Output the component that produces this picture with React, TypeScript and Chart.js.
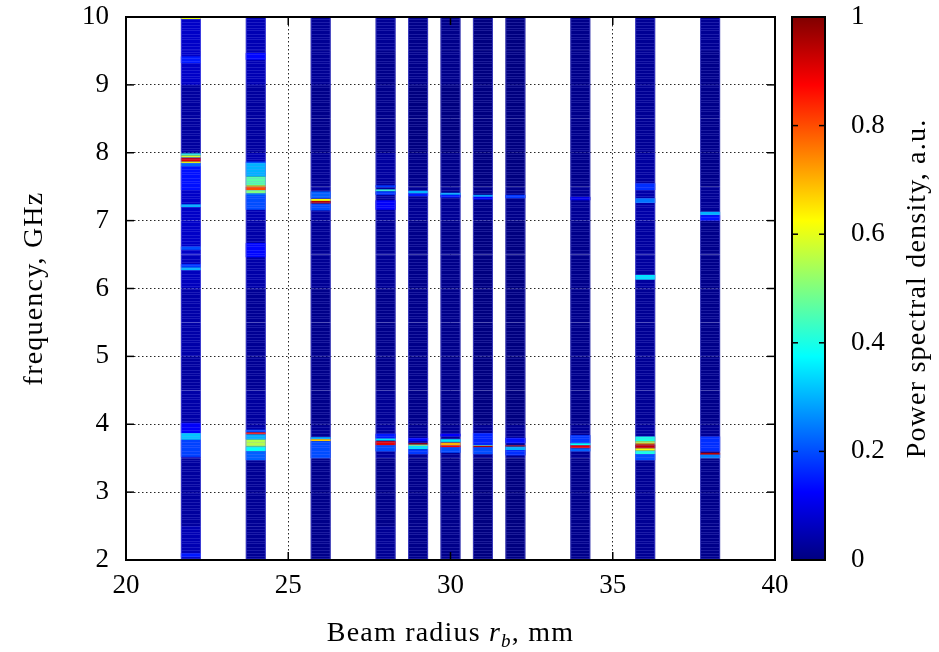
import React, { useEffect, useRef } from "react";
import { Chart, registerables } from "chart.js";
Chart.register(...registerables);

// ---- data ----
const radii = [22, 24, 26, 28, 29, 30, 31, 32, 34, 36, 38];
const bgEdges = [2, 2.5, 3, 3.5, 4, 4.5, 5, 5.5, 6, 6.5, 7, 7.5, 8, 8.5, 9, 9.5, 10];

const bg22 = [0.05, 0.03, 0.03, 0.06, 0.04, 0.03, 0.04, 0.04, 0.06, 0.07, 0.07, 0.06, 0.03, 0.03, 0.07, 0.07];
const bg24 = [0.02, 0.02, 0.02, 0.04, 0.03, 0.02, 0.02, 0.02, 0.04, 0.04, 0.05, 0.05, 0.03, 0.03, 0.05, 0.05];
const bg26 = [0.01, 0.01, 0.01, 0.02, 0.01, 0.01, 0.01, 0.01, 0.02, 0.02, 0.03, 0.02, 0.01, 0.01, 0.02, 0.02];
const bg28 = [0.02, 0.01, 0.01, 0.03, 0.02, 0.01, 0.01, 0.01, 0.02, 0.02, 0.03, 0.03, 0.01, 0.01, 0.01, 0.02];
const bg29 = [0.01, 0.01, 0.01, 0.02, 0.01, 0.01, 0.01, 0.01, 0.01, 0.01, 0.02, 0.01, 0.0, 0.0, 0.01, 0.01];
const bg30 = [0.01, 0.01, 0.01, 0.02, 0.01, 0.01, 0.01, 0.01, 0.01, 0.01, 0.02, 0.01, 0.0, 0.0, 0.01, 0.01];
const bg31 = [0.0, 0.0, 0.0, 0.02, 0.0, 0.0, 0.0, 0.0, 0.0, 0.0, 0.01, 0.0, 0.0, 0.0, 0.0, 0.0];
const bg32 = [0.0, 0.0, 0.0, 0.02, 0.0, 0.0, 0.0, 0.0, 0.0, 0.0, 0.01, 0.0, 0.0, 0.0, 0.0, 0.0];
const bg34 = [0.01, 0.01, 0.01, 0.02, 0.01, 0.01, 0.01, 0.01, 0.01, 0.01, 0.02, 0.01, 0.01, 0.01, 0.01, 0.01];
const bg36 = [0.02, 0.02, 0.02, 0.03, 0.02, 0.02, 0.02, 0.02, 0.03, 0.03, 0.04, 0.03, 0.02, 0.02, 0.02, 0.02];
const bg38 = [0.01, 0.01, 0.01, 0.02, 0.01, 0.01, 0.01, 0.01, 0.01, 0.01, 0.02, 0.01, 0.01, 0.01, 0.01, 0.02];

// spectral features: [low GHz, high GHz, level]
const pk22 = [
  [9.97, 10, 0.6], [9.32, 9.42, 0.15], [7.45, 7.8, 0.14], [7.8, 7.85, 0.22],
  [7.96, 7.99, 0.42], [7.93, 7.96, 0.58], [7.87, 7.92, 0.9], [7.85, 7.87, 0.62],
  [7.2, 7.24, 0.3], [6.57, 6.62, 0.2], [6.31, 6.36, 0.18], [6.27, 6.31, 0.3],
  [3.87, 4.02, 0.12], [3.77, 3.87, 0.32], [3.52, 3.77, 0.19], [2.04, 2.1, 0.15],
];
const pk24 = [
  [9.37, 9.47, 0.13], [7.85, 7.87, 0.2], [7.65, 7.85, 0.3], [7.52, 7.65, 0.46],
  [7.5, 7.52, 0.6], [7.45, 7.5, 0.8], [7.4, 7.45, 0.5], [7.38, 7.4, 0.28],
  [7.16, 7.38, 0.2], [6.46, 6.67, 0.13], [3.88, 3.92, 0.2], [3.85, 3.88, 0.85],
  [3.78, 3.85, 0.3], [3.77, 3.78, 0.45], [3.67, 3.77, 0.55], [3.6, 3.67, 0.38],
  [3.47, 3.6, 0.22],
];
const pk26 = [
  [7.33, 7.43, 0.22], [7.29, 7.32, 0.62], [7.25, 7.29, 0.95], [7.15, 7.25, 0.2],
  [3.78, 3.81, 0.3], [3.75, 3.78, 0.68], [3.5, 3.75, 0.2],
];
const pk28 = [
  [7.49, 7.52, 0.18], [7.43, 7.46, 0.42], [7.38, 7.43, 0.18], [7.16, 7.3, 0.12],
  [3.79, 3.86, 0.15], [3.76, 3.79, 0.35], [3.69, 3.75, 0.9], [3.6, 3.69, 0.2],
];
const pk29 = [
  [7.4, 7.44, 0.3], [7.36, 7.4, 0.15], [3.75, 3.8, 0.13], [3.7, 3.72, 0.95],
  [3.68, 3.7, 0.5], [3.63, 3.68, 0.35], [3.56, 3.63, 0.18],
];
const pk30 = [
  [7.38, 7.41, 0.3], [7.34, 7.38, 0.15], [3.82, 3.86, 0.12], [3.74, 3.78, 0.35],
  [3.69, 3.73, 0.7], [3.68, 3.69, 0.8], [3.66, 3.68, 0.88], [3.58, 3.66, 0.2],
];
const pk31 = [
  [7.35, 7.38, 0.28], [7.31, 7.35, 0.12], [3.69, 3.87, 0.16], [3.68, 3.69, 0.5],
  [3.66, 3.68, 0.95], [3.56, 3.66, 0.2],
];
const pk32 = [
  [7.33, 7.38, 0.18], [3.72, 3.8, 0.14], [3.67, 3.69, 0.95], [3.62, 3.67, 0.3],
  [3.54, 3.62, 0.17],
];
const pk34 = [
  [7.3, 7.35, 0.1], [3.72, 3.84, 0.18], [3.69, 3.72, 0.38], [3.645, 3.69, 0.9],
  [3.6, 3.645, 0.22],
];
const pk36 = [
  [7.45, 7.55, 0.17], [7.26, 7.33, 0.24], [6.13, 6.2, 0.35], [3.75, 3.82, 0.4],
  [3.72, 3.75, 0.55], [3.7, 3.72, 0.7], [3.645, 3.7, 0.93], [3.61, 3.645, 0.62],
  [3.56, 3.61, 0.4], [3.47, 3.56, 0.2],
];
const pk38 = [
  [7.08, 7.13, 0.3], [7.0, 7.08, 0.14], [3.6, 3.82, 0.17], [3.55, 3.58, 0.95],
  [3.5, 3.55, 0.25],
];

const bgColumns = [bg22, bg24, bg26, bg28, bg29, bg30, bg31, bg32, bg34, bg36, bg38];
const pkColumns = [pk22, pk24, pk26, pk28, pk29, pk30, pk31, pk32, pk34, pk36, pk38];

const cbTickLabels = ["0", "0.2", "0.4", "0.6", "0.8", "1"];
const jetStops = [0, 0.125, 0.375, 0.625, 0.875, 1];

const xTitle = ["Beam radius ", "r", "b", ", mm"];
const yTitle = "frequency, GHz";
const cbTitle = "Power spectral density, a.u.";

// ---- style ----
const FONT = "'Liberation Serif', 'Times New Roman', serif";
const TICK_FONT = { family: FONT, size: 27 };

function jet(v: number): string {
  const c = (t: number) => Math.round(255 * Math.max(0, Math.min(1, t)));
  const r = c(Math.min(4 * v - 1.5, -4 * v + 4.5));
  const g = c(Math.min(4 * v - 0.5, -4 * v + 3.5));
  const b = c(Math.min(4 * v + 0.5, -4 * v + 2.5));
  return `rgb(${r},${g},${b})`;
}

const decorPlugin = {
  id: "decor",
  afterDraw(chart: any) {
    const { ctx, chartArea: a, scales } = chart;
    const xs = scales.x, ys = scales.y, cb = scales.cb;
    ctx.save();
    ctx.strokeStyle = "#000";
    const seg = (x1: number, y1: number, x2: number, y2: number) => {
      ctx.beginPath(); ctx.moveTo(x1, y1); ctx.lineTo(x2, y2); ctx.stroke();
    };
    // inward ticks
    ctx.lineWidth = 1.5;
    const TL = 8;
    xs.ticks.forEach((_: any, i: number) => {
      const p = xs.getPixelForTick(i);
      seg(p, a.bottom, p, a.bottom - TL);
      seg(p, a.top, p, a.top + TL);
    });
    ys.ticks.forEach((_: any, i: number) => {
      const p = ys.getPixelForTick(i);
      seg(a.left, p, a.left + TL, p);
      seg(a.right, p, a.right - TL, p);
    });
    ctx.lineWidth = 2;
    ctx.strokeRect(a.left, a.top, a.right - a.left, a.bottom - a.top);

    // colour bar
    const cTop = cb.getPixelForValue(1), cBot = cb.getPixelForValue(0);
    const cL = cb.left + 17, cR = cb.left + 50;
    const grad = ctx.createLinearGradient(0, cBot, 0, cTop);
    jetStops.forEach((s) => grad.addColorStop(s, jet(s)));
    ctx.fillStyle = grad;
    ctx.fillRect(cL, cTop, cR - cL, cBot - cTop);
    ctx.lineWidth = 1.5;
    cb.ticks.forEach((t: any, i: number) => {
      if (t.value < 0.01 || t.value > 0.99) return;
      const p = cb.getPixelForTick(i);
      seg(cL, p, cL + 6, p);
      seg(cR, p, cR - 6, p);
    });
    ctx.lineWidth = 2;
    ctx.strokeRect(cL, cTop, cR - cL, cBot - cTop);

    // titles
    ctx.fillStyle = "#000";
    (ctx as any).letterSpacing = "1.2px";
    const mid = (a.top + a.bottom) / 2;
    ctx.font = `28px ${FONT}`;
    ctx.textAlign = "center";
    ctx.textBaseline = "middle";
    ctx.save();
    ctx.translate(35, mid);
    ctx.rotate(-Math.PI / 2);
    ctx.fillText(yTitle, 0, 0);
    ctx.restore();
    ctx.save();
    ctx.translate(918, mid);
    ctx.rotate(-Math.PI / 2);
    ctx.fillText(cbTitle, 0, 0);
    ctx.restore();

    const parts = [
      { t: xTitle[0], f: `28px ${FONT}`, dy: 0 },
      { t: xTitle[1], f: `italic 28px ${FONT}`, dy: 0 },
      { t: xTitle[2], f: `italic 19px ${FONT}`, dy: 6 },
      { t: xTitle[3], f: `28px ${FONT}`, dy: 0 },
    ];
    ctx.textAlign = "left";
    ctx.textBaseline = "alphabetic";
    let total = 0;
    const widths = parts.map((p) => { ctx.font = p.f; const w = ctx.measureText(p.t).width; total += w; return w; });
    let x = (a.left + a.right) / 2 - total / 2;
    const base = 641;
    parts.forEach((p, i) => { ctx.font = p.f; ctx.fillText(p.t, x, base + p.dy); x += widths[i]; });
    ctx.restore();
  },
};

const noPad = (s: any) => { s.paddingTop = 0; s.paddingBottom = 0; s.paddingLeft = 0; s.paddingRight = 0; };

export default function App() {
  const ref = useRef<HTMLCanvasElement | null>(null);

  useEffect(() => {
    if (!ref.current) return;
    const pc = document.createElement("canvas");
    pc.width = 2; pc.height = 24;
    const pctx = pc.getContext("2d")!;
    pctx.fillStyle = "rgba(140,140,255,0.2)";
    [1, 4, 6, 10, 13, 15, 19, 22].forEach((r) => pctx.fillRect(0, r, 2, 1));
    const stripe = ref.current.getContext("2d")!.createPattern(pc, "repeat");

    const bgCells = radii.flatMap((r, c) =>
      bgColumns[c].map((v, i) => ({ x: r, y: [bgEdges[i], bgEdges[i + 1]], v }))
    );
    const pkCells = radii.flatMap((r, c) =>
      pkColumns[c].map(([lo, hi, v]) => ({ x: r, y: [lo, hi], v }))
    );
    const ovCells = radii.map((r) => ({ x: r, y: [bgEdges[0], bgEdges[bgEdges.length - 1]] }));

    const colorOf = (c: any) => jet(c.raw && typeof c.raw.v === "number" ? c.raw.v : 0);

    const gridOpts = { color: "rgba(0,0,0,0.85)", lineWidth: 1, drawTicks: false, offset: false };
    const borderOpts = { display: false, dash: [1.5, 2.5] };

    const chart = new Chart(ref.current, {
      type: "bar",
      data: {
        datasets: [
          { label: "background", data: bgCells as any, backgroundColor: colorOf, order: 3 },
          { label: "features", data: pkCells as any, backgroundColor: colorOf, order: 2 },
          {
            label: "texture", data: ovCells as any, backgroundColor: stripe as any,
            borderColor: "rgba(130,130,255,0.45)",
            borderWidth: { left: 1, right: 1, top: 0, bottom: 0 } as any,
            borderSkipped: false, inflateAmount: 0, order: 1,
          },
        ],
      },
      options: {
        responsive: false,
        animation: false,
        events: [],
        layout: { padding: { top: 17, left: 0, right: 0, bottom: 0 } },
        datasets: { bar: { grouped: false, categoryPercentage: 1, barPercentage: 0.62 } } as any,
        plugins: { legend: { display: false }, tooltip: { enabled: false } },
        scales: {
          x: {
            type: "linear", min: 20, max: 40, offset: false,
            ticks: { stepSize: 5, padding: 10, font: TICK_FONT, color: "#000", maxRotation: 0 },
            grid: gridOpts, border: borderOpts,
            afterFit: (s: any) => { s.height = 92; noPad(s); },
          },
          y: {
            type: "linear", min: 2, max: 10,
            ticks: { stepSize: 1, padding: 17, font: TICK_FONT, color: "#000" },
            grid: gridOpts, border: borderOpts,
            afterFit: (s: any) => { s.width = 126; noPad(s); },
          },
          cb: {
            type: "linear", axis: "y", position: "right", min: 0, max: 1,
            ticks: {
              stepSize: 0.2, padding: 76, font: TICK_FONT, color: "#000",
              callback: (_v: any, i: number) => cbTickLabels[i],
            },
            grid: { display: false, drawTicks: false }, border: { display: false },
            afterFit: (s: any) => { s.width = 164; noPad(s); },
          } as any,
        },
      },
      plugins: [decorPlugin],
    });
    return () => chart.destroy();
  }, []);

  return (
    <div style={{ position: "fixed", left: 0, top: 0, width: 939, height: 652, background: "#fff" }}>
      <canvas ref={ref} width={939} height={652} style={{ display: "block" }} />
    </div>
  );
}
